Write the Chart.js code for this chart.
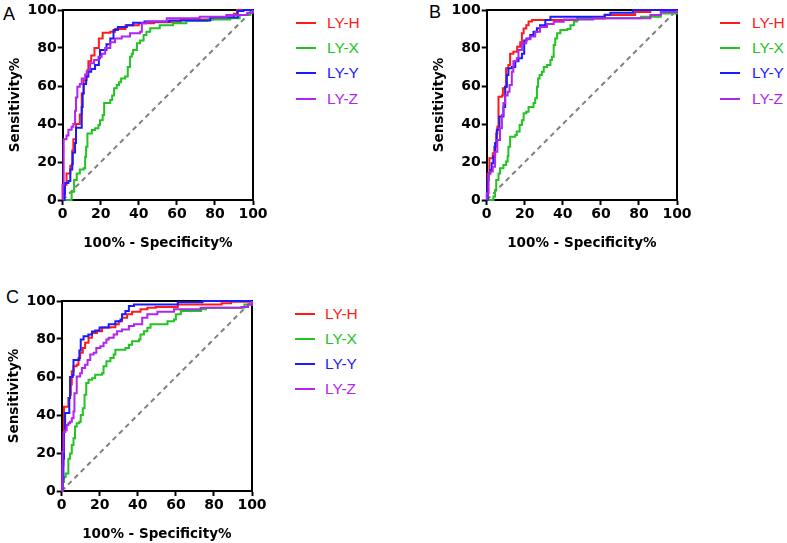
<!DOCTYPE html>
<html>
<head>
<meta charset="utf-8">
<script src="https://cdn.jsdelivr.net/npm/chart.js@4.4.1/dist/chart.umd.min.js"></script>
<style>
body{margin:0;background:#fff;width:787px;height:543px;overflow:hidden;position:relative;font-family:"Liberation Sans",Arial,sans-serif;}
canvas{position:absolute;}
.tag{position:absolute;font-size:18px;color:#000;line-height:1;}
.leg{position:absolute;font-size:15.5px;line-height:16px;height:16px;white-space:nowrap;}
.leg i{position:absolute;top:7px;width:20px;height:2px;}
</style>
</head>
<body>
<div class="tag" style="left:3px;top:5px">A</div>
<div class="tag" style="left:429px;top:3px">B</div>
<div class="tag" style="left:6px;top:288px">C</div>
<canvas id="cA" width="275" height="252" style="left:0;top:0"></canvas>
<canvas id="cB" width="275" height="252" style="left:424px;top:0"></canvas>
<canvas id="cC" width="275" height="252" style="left:-1px;top:291px"></canvas>
<script>
var seriesNames = ['LY-H', 'LY-X', 'LY-Y', 'LY-Z'];
var seriesColors = ['#ff1a1a', '#22c322', '#1a1aff', '#b025f0'];
var axisTicks = [0, 20, 40, 60, 80, 100];
var refLine = [[0, 0], [100, 100]];

// panel A  [100% - specificity, sensitivity]
var rocA_H = [[0,0],[0,8],[1.5,8],[2,14],[4,18],[5,26],[5.6,32],[7,40],[9,45],[10,46],[10,56],[11,63],[12.6,67.5],[13.5,73],[15,76],[16.7,80],[19,85],[21,88],[25,88.6],[27.5,90],[33,92],[40,93],[48,93.5],[62,95],[79,96],[90,98],[91.6,100],[100,100]];
var rocA_X = [[0,0],[4,0],[4.7,4.4],[6,10.5],[7.4,14],[9,16],[11,16.7],[11.8,22.8],[12.3,28],[13,35],[15.3,36.8],[17,37.7],[18.8,39.5],[19.6,42],[21,44.7],[21.8,51],[24,51],[25,52.6],[26,55],[27,58.8],[28.4,60.5],[29.6,62],[30.7,64],[32.8,65],[34.2,70],[35.4,75.4],[36.3,77],[37,79],[39,82.5],[40.7,84],[42.5,86.8],[44,88.6],[46,90.4],[51,92],[58,93],[65,94.4],[76,95],[88,95.6],[93,97.4],[98.6,99],[100,100]];
var rocA_Y = [[0,0],[1,3],[1.2,9],[3,10],[4,16],[5,19],[5.3,25],[6.5,30],[7,38],[10,38],[10,49],[10.5,56],[11,61],[12.3,65],[13.5,67.5],[15,69],[17,71],[19,74.6],[19.6,79],[22,79],[23,82],[25,85],[26.7,89.5],[29,91],[33.7,92],[37,93.3],[43,94],[56,94.5],[77.5,96],[92,99.5],[95,100],[100,100]];
var rocA_Z = [[0,0],[0,8],[0.5,32],[1.2,32],[2,34],[3,37],[4.7,38.6],[5.6,40],[6.5,47],[7,54],[7.7,59.6],[9,61],[10,64],[11.8,66],[13,68.4],[14.4,72],[16.5,73.7],[18.8,75.4],[20.5,77],[22.3,80],[25,83],[27.5,85],[31,86],[35.4,87.7],[40.7,88.6],[41.6,93],[44,94],[54.7,95.6],[72,96.5],[86,97.4],[97,98.6],[100,100]];

// panel B
var rocB_H = [[0,0],[0.5,14],[1.4,22],[2.6,22],[3.2,24.6],[4,28],[5,35],[5.6,38.6],[6.2,54.4],[8,55],[8.5,58.8],[9.7,59.6],[10.2,69.3],[11.4,71],[12.3,77],[14,78],[16,80.7],[17.6,83],[18.5,87.7],[19.4,90.3],[20.8,92],[22,94],[23.8,94.7],[48,95.5],[62,97.4],[78,99],[86,100],[100,100]];
var rocB_X = [[0,0],[2.6,0],[3.5,1.8],[4.4,5.3],[5,10.5],[6.2,14],[7,16.7],[8.8,18.4],[10.2,20.2],[11,23],[11.4,28],[12.3,33.3],[15,34.2],[15.8,36],[17.3,39.5],[18.5,42],[19.4,45.6],[20.8,46.5],[22,49],[23.8,49],[24.6,51],[25.5,53.5],[26.4,59.6],[27,64],[27.8,65.8],[29,67.5],[30,70],[31.7,71],[33.5,73.7],[34.3,75.4],[35.2,81.6],[36,85],[37,87.7],[38.7,89.5],[42.3,90],[44,92],[45.8,94],[47.5,95.6],[67,95.6],[81,96.5],[91.5,98.2],[100,100]];
var rocB_Y = [[0,0],[0.5,10.5],[1,14],[1.8,15.8],[2.6,19.3],[3.5,23],[4.4,30],[5.3,37],[6.7,44],[8,44],[8.8,49],[9.7,59.6],[10.6,65.8],[11.4,69.3],[13.2,70],[15,73],[16.7,74.6],[18.5,77],[19.7,84],[21,85],[22.9,86.8],[24.6,88.6],[26.4,90.4],[28,92],[30.8,94.7],[33.5,96.5],[62,97.5],[65,98.5],[77,100],[100,100]];
var rocB_Z = [[0,0],[0,3.5],[1,14],[2,15],[3.2,17.5],[4.4,25.4],[5.6,31.6],[7,37.7],[8,44.7],[8.8,51],[9.7,55],[11,57],[12,60.5],[13.2,67.5],[14,73],[15.8,74.6],[16.7,79],[18.5,82.5],[20.8,84.6],[22.9,86],[25.5,88.6],[28,91],[31.7,92.6],[35.2,93.8],[40.5,95],[56,95.6],[86,97.4],[91.5,99],[100,100]];

// panel C
var rocC_H = [[0,0],[0.5,13.6],[0.9,20.6],[1.2,44.4],[2.6,44.4],[3.5,48.9],[4.4,50.6],[4.8,56],[5.3,63],[6.2,65.6],[7.9,66.5],[8.8,70],[9.7,72.7],[11.1,75.3],[12.3,78],[14.1,80.6],[15.9,83.2],[18.5,84.1],[21.2,86],[25.6,86.2],[28.2,87.7],[30,89.4],[31.7,91.2],[34.4,93],[37,94.4],[41.4,95.6],[45,96.5],[49.4,96.8],[61,98.2],[84,98.8],[89,99.6],[100,100]];
var rocC_X = [[0,0],[0.4,4.8],[1.2,7.4],[2.1,9.2],[3.2,9.2],[3.5,17],[4.4,19.8],[5.3,24.2],[6.2,27.7],[7,33.9],[7.9,35.6],[9.3,36.5],[10,40],[11.1,43.6],[12,50.6],[12.9,56.8],[14.1,58.6],[15.9,59.4],[17.6,61.2],[21.2,62],[22,65.6],[23.5,68.3],[25.6,70],[27.3,71.8],[28.2,74.4],[33.5,75.3],[35.3,77],[37,78.8],[40.6,79.7],[41.4,82.4],[43.2,84.1],[45,85.9],[46.7,87.7],[53.8,87.7],[55.6,89.4],[59,90.3],[60,93],[62.6,94.7],[73.2,95.6],[75.8,96.5],[90.8,96.5],[96,98.2],[100,100]];
var rocC_Y = [[0,0],[0.5,6.5],[0.9,17],[1.2,31],[1.8,41],[3.5,41],[4,48.9],[4.4,60],[5.8,61],[6.2,69],[8.8,69],[9.3,74],[10,79.7],[11.5,81.5],[14,82.4],[15.9,84],[17.6,84.5],[19.9,86],[24.7,87.7],[28.2,89.4],[30.9,90.3],[31.7,93],[33.5,94.7],[35.3,97.4],[38,98.2],[61,99.3],[74,100],[100,100]];
var rocC_Z = [[0,0],[0.4,20.6],[0.9,31],[1.8,32],[2.6,34.7],[3.5,35.6],[4.4,36.5],[5.3,38.3],[6.2,41.8],[6.7,51.5],[7.6,51.5],[7.9,60.3],[9.7,62],[10.6,64.7],[12.3,66.5],[13.6,69],[15,71.8],[16.8,72.7],[18.2,75.3],[20.3,76.2],[22,78],[23.5,79.7],[24.7,80.6],[27.3,82.4],[29.1,84.1],[31.7,85],[35.3,86.8],[38,87.7],[42.3,91.2],[45,93],[50.3,94.4],[59,95.6],[73,96.5],[94.4,96.8],[97.9,98.2],[100,100]];

function pts(arr) {
	return arr.map(function(p){ return {x: p[0], y: p[1]}; });
}

// box around the plot area (top + right edges)
var frame = {
	id: 'frame',
	beforeDatasetsDraw: function(chart) {
		var a = chart.chartArea, ctx = chart.ctx;
		ctx.save();
		ctx.strokeStyle = '#000';
		ctx.lineWidth = 2;
		ctx.beginPath();
		ctx.moveTo(a.left, a.top);
		ctx.lineTo(a.right, a.top);
		ctx.lineTo(a.right, a.bottom);
		ctx.stroke();
		ctx.restore();
	}
};

var tickFont = {family: 'DejaVu Sans', weight: 'bold', size: 14};
var titleFont = {family: 'DejaVu Sans', weight: 'bold', size: 13.5};

function makeChart(id, curves) {
	var sets = curves.map(function(c, i){
		return {
			label: seriesNames[i],
			data: pts(c),
			borderColor: seriesColors[i],
			borderWidth: 2,
			pointRadius: 0,
			stepped: 'before',
			clip: false,
			order: 4 - i
		};
	});
	sets.push({
		label: 'ref',
		data: pts(refLine),
		borderColor: '#808080',
		borderWidth: 2,
		borderDash: [5, 4],
		pointRadius: 0,
		order: 9
	});
	return new Chart(document.getElementById(id), {
		type: 'line',
		data: {datasets: sets},
		options: {
			responsive: false,
			animation: false,
			layout: {padding: {top: 10, right: 22, bottom: 0, left: 0}},
			plugins: {legend: {display: false}, tooltip: {enabled: false}},
			scales: {
				x: {
					type: 'linear', min: 0, max: 100,
					afterBuildTicks: function(s){ s.ticks = axisTicks.map(function(v){ return {value: v}; }); },
					afterFit: function(s){ s.height = 52; },
					grid: {drawOnChartArea: false, tickLength: 5, tickWidth: 2, tickColor: '#000'},
					border: {color: '#000', width: 2},
					ticks: {color: '#000', font: tickFont, padding: 1, maxRotation: 0},
					title: {display: true, text: '100% - Specificity%', color: '#000', font: titleFont, padding: {top: 0, bottom: 0}}
				},
				y: {
					min: 0, max: 100,
					afterBuildTicks: function(s){ s.ticks = axisTicks.map(function(v){ return {value: v}; }); },
					afterFit: function(s){ s.width = 62.7; },
					grid: {drawOnChartArea: false, tickLength: 5, tickWidth: 2, tickColor: '#000'},
					border: {color: '#000', width: 2},
					ticks: {color: '#000', font: tickFont, padding: 1},
					title: {display: true, text: 'Sensitivity%', color: '#000', font: titleFont, padding: {top: 7, bottom: 0}}
				}
			}
		},
		plugins: [frame]
	});
}

makeChart('cA', [rocA_H, rocA_X, rocA_Y, rocA_Z]);
makeChart('cB', [rocB_H, rocB_X, rocB_Y, rocB_Z]);
makeChart('cC', [rocC_H, rocC_X, rocC_Y, rocC_Z]);

// legends
function legend(left, top, gap) {
	seriesNames.forEach(function(name, i){
		var d = document.createElement('div');
		d.className = 'leg';
		d.style.left = left + 'px';
		d.style.top = (top + i * 25.2 - 8) + 'px';
		d.style.color = seriesColors[i];
		d.style.paddingLeft = (20 + gap) + 'px';
		var ln = document.createElement('i');
		ln.style.left = '0';
		ln.style.background = seriesColors[i];
		d.appendChild(ln);
		d.appendChild(document.createTextNode(name));
		document.body.appendChild(d);
	});
}
legend(296, 23, 11);
legend(720, 23, 12);
legend(295, 313.5, 10);
</script>
</body>
</html>
